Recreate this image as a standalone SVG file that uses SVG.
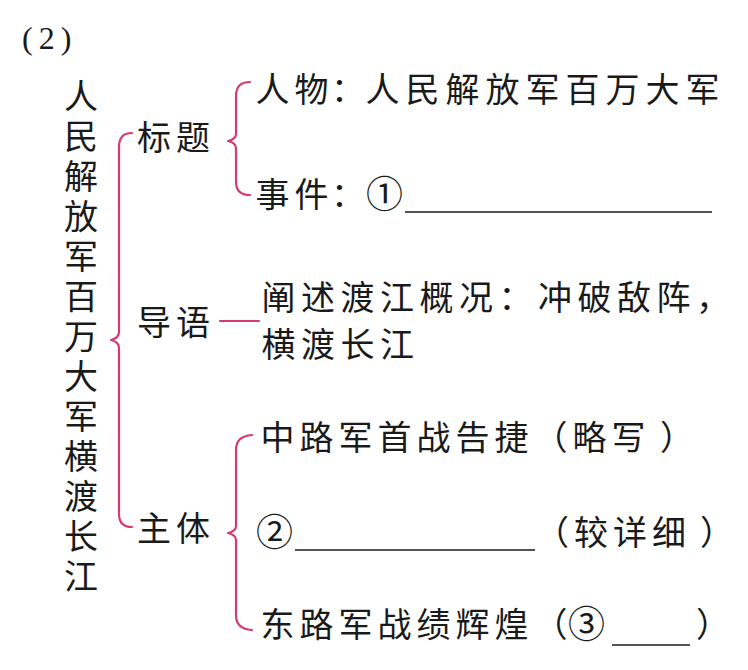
<svg xmlns="http://www.w3.org/2000/svg" width="748" height="670" viewBox="0 0 748 670">
<style>
.t{font-family:"Noto Sans CJK SC","Noto Sans",sans-serif;font-size:34px;fill:#1a1a1a;letter-spacing:5px}
.n{letter-spacing:0}
.c{font-size:37px;letter-spacing:0}
.br{fill:none;stroke:#d63a72;stroke-width:2.2;stroke-linecap:round;stroke-linejoin:round}
.ul{stroke:#1a1a1a;stroke-width:1.6}
</style>
<rect width="748" height="670" fill="#ffffff"/>
<g id="label">
<text x="22" y="49" font-family="Liberation Serif,serif" font-size="32" letter-spacing="6" fill="#1a1a1a">(2)</text>
</g>
<g id="root">
<text class="t" x="81" y="79" writing-mode="tb" style="letter-spacing:6px">人民解放军百万大军横渡长江</text>
</g>
<g id="connectors">
<path class="br" d="M132 133 Q119 133 119 147 L119 332 Q119 338 111 340 Q119 342 119 348 L119 514 Q119 527 132 527"/>
<path class="br" d="M250 82 Q236 82 236 96 L236 134 Q236 139 228 141 Q236 143 236 148 L236 182 Q236 195 250 195"/>
<path class="br" d="M220 321 L259 321"/>
<path class="br" d="M252 435 Q236 436 236 450 L236 526 Q236 531 228 533 Q236 535 236 540 L236 615 Q236 629 252 630"/>
</g>
<g id="biaoti"><text class="t" x="137" y="150">标题</text></g>
<g id="daoyu"><text class="t" x="137" y="335">导语</text></g>
<g id="zhuti"><text class="t" x="137" y="541">主体</text></g>
<g id="renwu"><text class="t" x="255.5" y="102">人物<tspan class="n" x="331">：</tspan><tspan x="365.5" style="letter-spacing:6px">人民解放军百万大军</tspan></text></g>
<g id="shijian">
<text class="t" x="255.5" y="207">事件<tspan class="n" x="331">：</tspan><tspan class="c" x="366" y="208">①</tspan></text>
<line class="ul" x1="405" y1="212" x2="712" y2="212"/>
</g>
<g id="chanshu">
<text class="t" x="261.5" y="310" style="letter-spacing:5.5px">阐述渡江概况：冲破敌阵，</text>
<text class="t" x="261.5" y="357" style="letter-spacing:5.5px">横渡长江</text>
</g>
<g id="zhonglu"><text class="t" x="260.5" y="450">中路军首战告捷（略写<tspan x="660">）</tspan></text></g>
<g id="blank2">
<text class="t" x="256" y="546"><tspan class="c">②</tspan><tspan class="n" x="535" y="545">（</tspan><tspan x="574">较详细</tspan><tspan x="700">）</tspan></text>
<line class="ul" x1="295" y1="550" x2="535" y2="550"/>
</g>
<g id="donglu">
<text class="t" x="260.5" y="637">东路军战绩辉煌<tspan class="n" x="533.5">（</tspan><tspan class="c" x="568" y="638">③</tspan><tspan x="696" y="637">）</tspan></text>
<line class="ul" x1="612" y1="645" x2="690" y2="645"/>
</g>
</svg>
